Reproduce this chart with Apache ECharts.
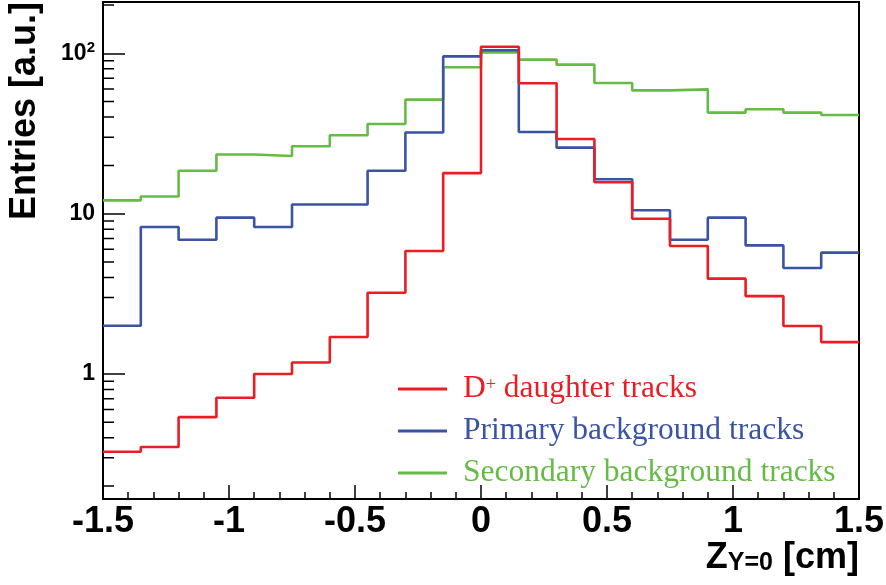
<!DOCTYPE html>
<html>
<head>
<meta charset="utf-8">
<script src="https://cdn.jsdelivr.net/npm/echarts@6/dist/echarts.min.js"></script>
<style>
  html, body { margin: 0; padding: 0; background: #fff; }
  #chart { width: 886px; height: 585px; }
</style>
</head>
<body>
<div id="chart"></div>
<script>
// ---- data ----
const binEdges = [-1.5, -1.35, -1.2, -1.05, -0.9, -0.75, -0.6, -0.45, -0.3, -0.15, 0,
                  0.15, 0.3, 0.45, 0.6, 0.75, 0.9, 1.05, 1.2, 1.35, 1.5];
const dplusTracks = [0.327, 0.350, 0.538, 0.711, 1.0, 1.18, 1.70, 3.21, 5.85, 17.9,
                     110, 65.0, 29.2, 15.7, 9.3, 6.28, 3.93, 3.06, 1.99, 1.58];
const primaryTracks = [2.0, 8.25, 6.88, 9.44, 8.25, 11.4, 11.4, 18.5, 32.1, 95.7,
                       104.5, 32.3, 25.8, 16.4, 10.5, 6.88, 9.44, 6.34, 4.58, 5.71];
const secondaryTracks = [12.1, 12.8, 18.5, 23.4, 22.9, 26.3, 30.8, 36.2, 51.4, 81.8,
                         101.4, 91.4, 85.0, 65.3, 58.7, 59.6, 42.7, 44.8, 42.7, 41.2];
const seriesNames = ['D+ daughter tracks', 'Primary background tracks', 'Secondary background tracks'];
const xTickLabels = ['-1.5', '-1', '-0.5', '0', '0.5', '1', '1.5'];
const yMajorTicks = [1, 10, 100];
const yMinorTicks = [0.2, 0.3, 0.4, 0.5, 0.6, 0.7, 0.8, 0.9, 2, 3, 4, 5, 6, 7, 8, 9,
                     20, 30, 40, 50, 60, 70, 80, 90, 200];

// ---- styling ----
const colRed = '#ec1c24', colBlue = '#3a53a4', colGreen = '#65bb46';
const sansFont = "'Liberation Sans', Arial, Helvetica, sans-serif";
const serifFont = "'Liberation Serif', 'Times New Roman', serif";
const xMin = -1.5, xMax = 1.5;
const yMin = 0.166, yMax = 209;
const minorTickLenX = 0.0437;   // ~11 px expressed in x-axis units

function histData(vals) {
  const d = vals.map((v, i) => [binEdges[i], v]);
  d.push([binEdges[binEdges.length - 1], vals[vals.length - 1]]);
  return d;
}

function makeSeries(name, vals, color) {
  return {
    name: name, type: 'line', step: 'end', showSymbol: false, symbol: 'none',
    data: histData(vals), z: 3,
    lineStyle: { color: color, width: 2.6 },
    itemStyle: { color: color },
    emphasis: { disabled: true },
    animation: false
  };
}

// minor log ticks of the y axis, drawn as short segments through the axis scales
const minorTickSeries = yMinorTicks.map(v => ({
  type: 'line', showSymbol: false, symbol: 'none', silent: true, z: 2,
  data: [[xMin, v], [xMin + minorTickLenX, v]],
  lineStyle: { color: '#000', width: 1.5 },
  emphasis: { disabled: true },
  animation: false
}));

const chart = echarts.init(document.getElementById('chart'), null, { renderer: 'canvas' });
const option = {
  animation: false,
  backgroundColor: '#fff',
  grid: {
    left: 103, right: 27, top: 2, bottom: 86,
    show: true, borderColor: '#000', borderWidth: 2,
    outerBoundsMode: 'none', containLabel: false
  },
  xAxis: {
    type: 'value', min: xMin, max: xMax, interval: 0.5,
    axisLine: { show: true, onZero: false, lineStyle: { color: '#000', width: 2 } },
    axisTick: { show: true, inside: true, length: 14, lineStyle: { color: '#000', width: 1.5 } },
    minorTick: { show: true, splitNumber: 5, length: 7, lineStyle: { color: '#000', width: 1.5 } },
    splitLine: { show: false },
    axisLabel: {
      margin: 5, color: '#000', fontSize: 36, fontWeight: 'bold', fontFamily: sansFont,
      formatter: function (v) {
        const idx = Math.round((v - xMin) / 0.5);
        return xTickLabels[idx] !== undefined ? xTickLabels[idx] : '';
      }
    }
  },
  yAxis: {
    type: 'log', logBase: 10, min: yMin, max: yMax, position: 'left',
    axisLine: { show: true, onZero: false, lineStyle: { color: '#000', width: 2 } },
    axisTick: { show: true, inside: true, length: 22, customValues: yMajorTicks,
                lineStyle: { color: '#000', width: 1.5 } },
    splitLine: { show: false },
    axisLabel: {
      customValues: yMajorTicks,
      margin: 8, color: '#000', fontSize: 23, fontWeight: 'bold', fontFamily: sansFont,
      formatter: function (v) {
        if (Math.abs(v - 100) < 1e-6) return '{a|10}{s|2}';
        return '{a|' + String(Math.round(v)) + '}';
      },
      rich: {
        a: { fontSize: 23, fontWeight: 'bold', fontFamily: sansFont, color: '#000', lineHeight: 24 },
        s: { fontSize: 15, fontWeight: 'bold', fontFamily: sansFont, color: '#000', lineHeight: 15, padding: [0, 0, 10, 0] }
      }
    }
  },
  legend: {
    orient: 'vertical', left: 398, top: 373, padding: 0, itemGap: 10,
    itemWidth: 49, itemHeight: 3, icon: 'rect',
    selectedMode: false,
    data: [
      { name: seriesNames[0], textStyle: { color: colRed } },
      { name: seriesNames[1], textStyle: { color: colBlue } },
      { name: seriesNames[2], textStyle: { color: colGreen } }
    ],
    formatter: function (name) {
      if (name === seriesNames[0]) return '{m|D}{s|+}{m| daughter tracks}';
      return name;
    },
    textStyle: {
      fontFamily: serifFont, fontSize: 31.5, lineHeight: 31, padding: [0, 0, 0, 11],
      rich: {
        m: { fontFamily: serifFont, fontSize: 31.5, lineHeight: 31, color: colRed },
        s: { fontFamily: serifFont, fontSize: 18, lineHeight: 18, color: colRed, padding: [0, 0, 8, 0] }
      }
    }
  },
  graphic: [
    {
      type: 'text', x: 25, y: 2, rotation: Math.PI / 2, silent: true,
      style: {
        text: 'Entries [a.u.]', fill: '#000',
        font: 'bold 36px ' + sansFont,
        textAlign: 'right', textVerticalAlign: 'middle'
      }
    },
    {
      type: 'text', x: 859, y: 540, silent: true,
      style: {
        text: '{z|Z}{sub|Y=0}{z| [cm]}', fill: '#000',
        textAlign: 'right', textVerticalAlign: 'top',
        rich: {
          z: { fontSize: 36, fontWeight: 'bold', fontFamily: sansFont, lineHeight: 36, verticalAlign: 'top', fill: '#000' },
          sub: { fontSize: 25, fontWeight: 'bold', fontFamily: sansFont, lineHeight: 25, verticalAlign: 'bottom', padding: [21, 0, 0, 0], fill: '#000' }
        }
      }
    }
  ],
  series: minorTickSeries.concat([
    makeSeries(seriesNames[2], secondaryTracks, colGreen),
    makeSeries(seriesNames[1], primaryTracks, colBlue),
    makeSeries(seriesNames[0], dplusTracks, colRed)
  ])
};
chart.setOption(option);
</script>
</body>
</html>
